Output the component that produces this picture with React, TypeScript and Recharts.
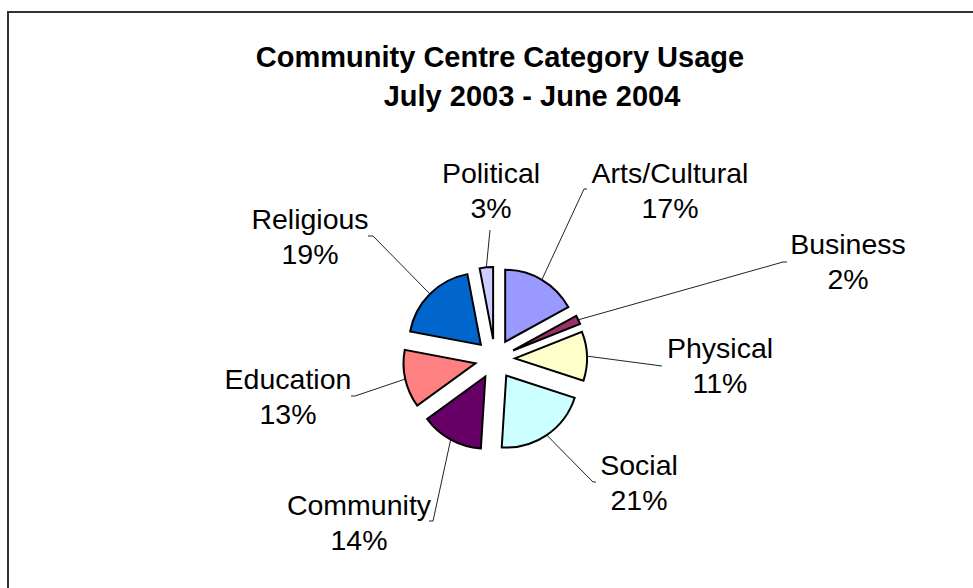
import React from 'react';
import { PieChart, Pie, Cell, Sector } from 'recharts';

const categories = ['Arts/Cultural', 'Business', 'Physical', 'Social', 'Community', 'Education', 'Religious', 'Political'];
const shares = [17, 2, 11, 21, 14, 13, 19, 3];
const sliceColors = ['#9999FF', '#993366', '#FFFFCC', '#CCFFFF', '#660066', '#FF8080', '#0066CC', '#CCCCFF'];
const titleLines = ['Community Centre Category Usage', 'July 2003 - June 2004'];

// label placement (text centre x, first baseline y, leader elbow, tick end x)
const labelLayout = [
  { tx: 670, ty: 183, ex: 584, ey: 189, kx: 587 },
  { tx: 848, ty: 254, ex: 783, ey: 262, kx: 787 },
  { tx: 720, ty: 358, ex: 662, ey: 366, kx: 662 },
  { tx: 639, ty: 475, ex: 593, ey: 482, kx: 596 },
  { tx: 359, ty: 515, ex: 433, ey: 521, kx: 429 },
  { tx: 288, ty: 389, ex: 355, ey: 396, kx: 351 },
  { tx: 310, ty: 229, ex: 373, ey: 236, kx: 368 },
  { tx: 491, ty: 183, ex: 490, ey: 230, kx: 490 },
];

const data = categories.map((name, i) => ({ name, value: shares[i] }));

const RAD = Math.PI / 180;
const EXPLODE = 20;
const FONT = '"Liberation Sans", Arial, sans-serif';

const renderSlice = (props: any) => {
  const { cx, cy, midAngle, outerRadius, startAngle, endAngle, index, percent } = props;
  const ux = Math.cos(-midAngle * RAD);
  const uy = Math.sin(-midAngle * RAD);
  const ox = cx + EXPLODE * ux;
  const oy = cy + EXPLODE * uy;
  const sx = ox + outerRadius * ux;
  const sy = oy + outerRadius * uy;
  const L = labelLayout[index];
  const pct = Math.round((percent ?? shares[index] / 100) * 100) + '%';
  return (
    <g key={`slice-${index}`}>
      <Sector
        cx={ox}
        cy={oy}
        innerRadius={0}
        outerRadius={outerRadius}
        startAngle={startAngle}
        endAngle={endAngle}
        fill={sliceColors[index]}
        stroke="#000"
        strokeWidth={2}
      />
      <polyline
        points={`${sx},${sy} ${L.ex},${L.ey} ${L.kx},${L.ey}`}
        fill="none"
        stroke="#222"
        strokeWidth={1}
      />
      <text x={L.tx} y={L.ty} textAnchor="middle" fontFamily={FONT} fontSize={28.5} fill="#000">
        {categories[index]}
      </text>
      <text x={L.tx} y={L.ty + 35} textAnchor="middle" fontFamily={FONT} fontSize={28.5} fill="#000">
        {pct}
      </text>
    </g>
  );
};

export default function App() {
  return (
    <div style={{ position: 'absolute', left: 0, top: 0, width: 973, height: 588, overflow: 'hidden', background: '#fff' }}>
      <div
        style={{
          position: 'absolute',
          left: 7,
          top: 11,
          width: 1000,
          height: 640,
          border: '2px solid #333',
          boxSizing: 'border-box',
        }}
      />
      <div style={{ position: 'absolute', left: 0, top: 0 }}>
        <PieChart width={973} height={588} margin={{ top: 0, right: 0, bottom: 0, left: 0 }}>
          <Pie
            data={data}
            dataKey="value"
            nameKey="name"
            cx={495}
            cy={359}
            innerRadius={0}
            outerRadius={72}
            startAngle={90}
            endAngle={-270}
            stroke="none"
            labelLine={false}
            label={renderSlice}
            isAnimationActive={false}
          >
            {data.map((d, i) => (
              <Cell key={d.name} fill="transparent" stroke="none" />
            ))}
          </Pie>
        </PieChart>
      </div>
      <svg width={973} height={588} style={{ position: 'absolute', left: 0, top: 0, pointerEvents: 'none' }}>
        <text x={500} y={67} textAnchor="middle" fontFamily={FONT} fontWeight="bold" fontSize={29} fill="#000">
          {titleLines[0]}
        </text>
        <text x={532} y={106} textAnchor="middle" fontFamily={FONT} fontWeight="bold" fontSize={29} fill="#000">
          {titleLines[1]}
        </text>
      </svg>
    </div>
  );
}
